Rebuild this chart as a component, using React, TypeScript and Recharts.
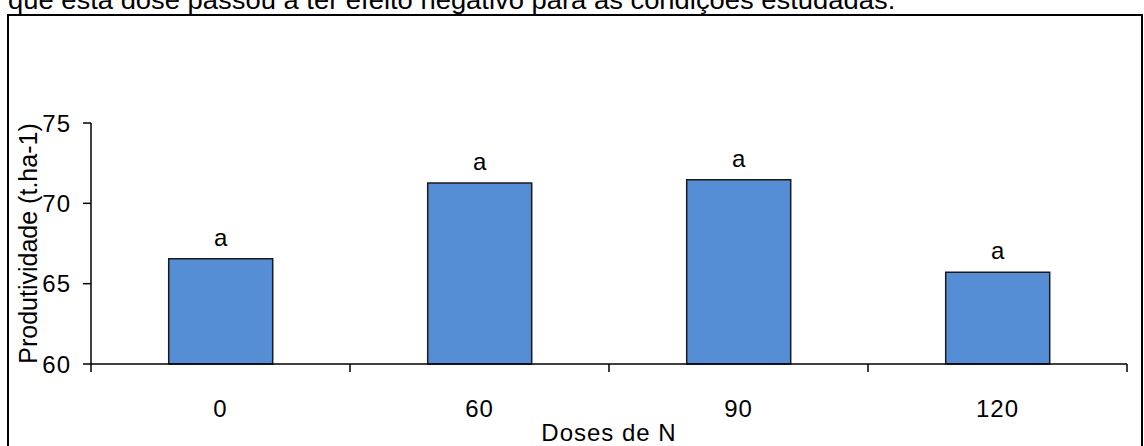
import React from "react";
import { BarChart, Bar, XAxis, YAxis, LabelList } from "recharts";

const doses = ["0", "60", "90", "120"];
const produtividade = [66.55, 71.27, 71.47, 65.71];
const letras = ["a", "a", "a", "a"];
const yTicks = [60, 65, 70, 75];

const data = doses.map((d, i) => ({
  dose: d,
  valor: produtividade[i],
  letra: letras[i],
}));

const W = 1144;
const H = 446;
const LEFT = 91;
const RIGHT = 17;
const BAND = (W - LEFT - RIGHT) / doses.length;
const FONT = "'Liberation Sans', Arial, sans-serif";

// tick marks sit on category boundaries, labels in the middle
function DoseTick(props: any) {
  const { x, y, payload, index } = props;
  const axisY = y - 8;
  return (
    <g>
      {index === 0 && (
        <line x1={x - BAND / 2} x2={x - BAND / 2} y1={axisY} y2={axisY + 8} stroke="#000" strokeWidth={1.5} />
      )}
      <line x1={x + BAND / 2} x2={x + BAND / 2} y1={axisY} y2={axisY + 8} stroke="#000" strokeWidth={1.5} />
      <text
        x={x}
        y={axisY + 53}
        textAnchor="middle"
        fontSize={24}
        fontFamily={FONT}
        letterSpacing={1}
        fill="#000"
      >
        {payload.value}
      </text>
    </g>
  );
}

export default function App() {
  return (
    <div
      style={{
        position: "absolute",
        left: 0,
        top: 0,
        width: W,
        height: H,
        overflow: "hidden",
        background: "#fff",
      }}
    >
      {/* cut-off paragraph above the figure */}
      <div
        style={{
          position: "absolute",
          left: 8,
          top: -14,
          fontSize: 25,
          fontFamily: FONT,
          whiteSpace: "nowrap",
          color: "#000",
          transform: "scaleX(1.095)",
          transformOrigin: "left top",
        }}
      >
        que esta dose passou a ter efeito negativo para as condições estudadas.
      </div>

      {/* figure frame */}
      <div
        style={{
          position: "absolute",
          left: 7,
          top: 14,
          width: 1132,
          height: 500,
          border: "2px solid #000",
        }}
      />

      <div style={{ position: "absolute", left: 0, top: 0 }}>
        <BarChart
          width={W}
          height={H}
          data={data}
          margin={{ top: 123, right: RIGHT, bottom: 0, left: 0 }}
          barCategoryGap="30%"
        >
          <XAxis
            dataKey="dose"
            height={82}
            axisLine={{ stroke: "#000", strokeWidth: 1.5 }}
            tickLine={false}
            tick={<DoseTick />}
            tickSize={8}
            tickMargin={0}
            label={{
              value: "Doses de N",
              position: "insideBottom",
              offset: 5,
              style: { fontSize: 24, fontFamily: FONT, fill: "#000", letterSpacing: 1 },
            }}
          />
          <YAxis
            width={LEFT}
            domain={[60, 75]}
            ticks={yTicks}
            interval={0}
            axisLine={{ stroke: "#000", strokeWidth: 1.5 }}
            tickLine={{ stroke: "#000", strokeWidth: 1.5 }}
            tickSize={8}
            tickMargin={12}
            tick={{ fontSize: 24, fontFamily: FONT, fill: "#000", letterSpacing: 1 }}
            label={{
              value: "Produtividade (t.ha-1)",
              angle: -90,
              position: "insideLeft",
              offset: 28,
              style: { fontSize: 25, fontFamily: FONT, fill: "#000", textAnchor: "middle" },
            }}
          />
          <Bar
            dataKey="valor"
            fill="#558ED5"
            stroke="#1a1a1a"
            strokeWidth={1.5}
            isAnimationActive={false}
          >
            <LabelList
              dataKey="letra"
              position="top"
              offset={13}
              style={{ fontSize: 24, fontFamily: FONT, fill: "#000" }}
            />
          </Bar>
        </BarChart>
      </div>
    </div>
  );
}
